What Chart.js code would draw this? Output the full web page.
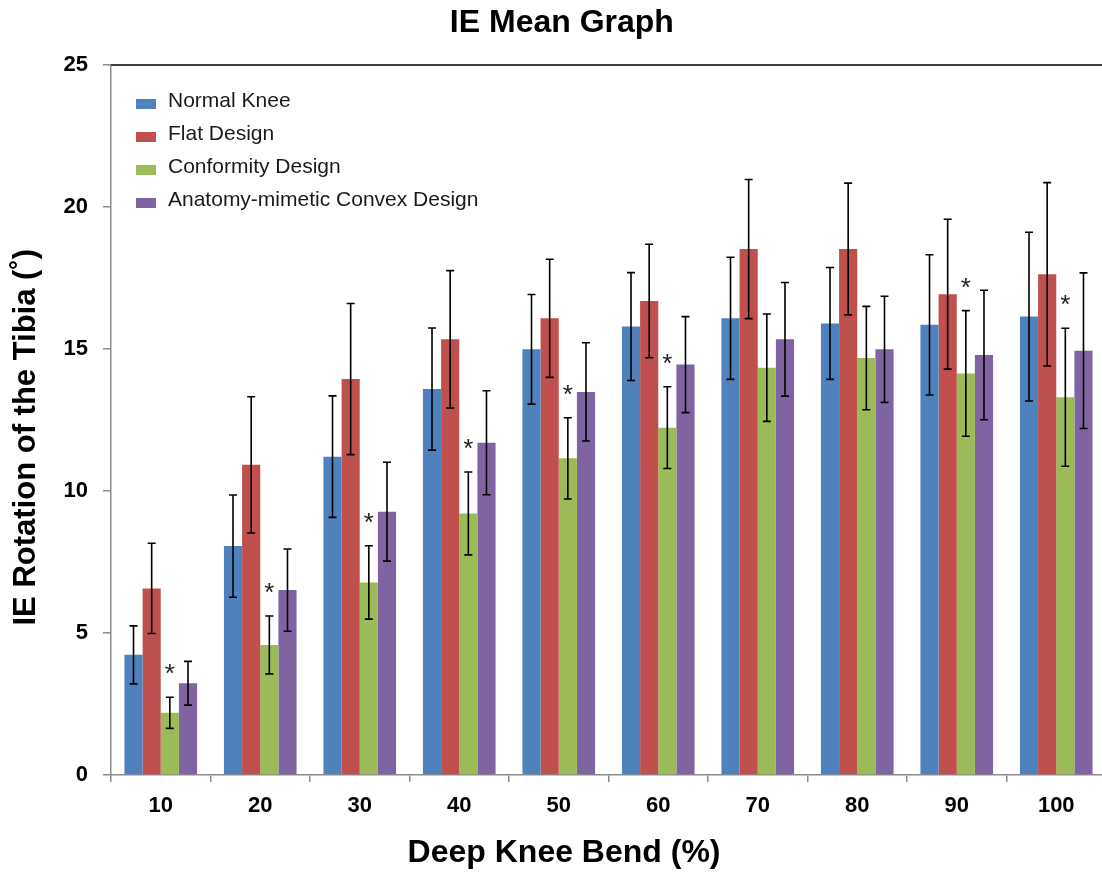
<!DOCTYPE html>
<html>
<head>
<meta charset="utf-8">
<title>IE Mean Graph</title>
<script src="https://cdn.jsdelivr.net/npm/chart.js@4"></script>
<style>
  html, body { margin: 0; padding: 0; background: #fff; overflow: hidden; }
  #wrap { width: 1108px; height: 873px; }
</style>
</head>
<body>
<div id="wrap"><canvas id="ieChart"></canvas></div>
<script>
const categories = ['10', '20', '30', '40', '50', '60', '70', '80', '90', '100'];

const normalKnee = [4.23, 8.06, 11.21, 13.59, 14.99, 15.79, 16.08, 15.90, 15.85, 16.14];
const normalSd   = [1.02, 1.80, 2.14, 2.15, 1.93, 1.90, 2.15, 1.97, 2.47, 2.97];
const flatDesign = [6.57, 10.92, 13.94, 15.34, 16.08, 16.69, 18.52, 18.52, 16.93, 17.63];
const flatSd     = [1.59, 2.40, 2.66, 2.42, 2.08, 2.00, 2.45, 2.32, 2.64, 3.23];
const conformity = [2.19, 4.58, 6.78, 9.21, 11.15, 12.23, 14.34, 14.68, 14.14, 13.30];
const conformSd  = [0.55, 1.02, 1.29, 1.46, 1.43, 1.44, 1.89, 1.82, 2.21, 2.43];
const convex     = [3.23, 6.51, 9.27, 11.70, 13.49, 14.45, 15.34, 14.99, 14.79, 14.94];
const convexSd   = [0.77, 1.45, 1.74, 1.83, 1.73, 1.69, 2.00, 1.87, 2.28, 2.74];

// asterisk over the conformity bar
const significant = [true, true, true, true, true, true, false, false, true, true];

const yTicks = [0, 5, 10, 15, 20, 25];

const FONT = 'Arial, "Liberation Sans", Helvetica, sans-serif';

// error bars, asterisks, top border and legend
const extras = {
  id: 'extras',
  afterDatasetsDraw(chart) {
    const ctx = chart.ctx;
    const y = chart.scales.y;
    const area = chart.chartArea;

    ctx.save();
    ctx.strokeStyle = '#000';
    ctx.lineWidth = 1.6;
    chart.data.datasets.forEach((ds, i) => {
      const meta = chart.getDatasetMeta(i);
      meta.data.forEach((bar, j) => {
        const hi = y.getPixelForValue(ds.data[j] + ds.sd[j]);
        const lo = y.getPixelForValue(ds.data[j] - ds.sd[j]);
        ctx.beginPath();
        ctx.moveTo(bar.x, hi); ctx.lineTo(bar.x, lo);
        ctx.moveTo(bar.x - 4, hi); ctx.lineTo(bar.x + 4, hi);
        ctx.moveTo(bar.x - 4, lo); ctx.lineTo(bar.x + 4, lo);
        ctx.stroke();
      });
    });

    // asterisks
    const gMeta = chart.getDatasetMeta(2);
    ctx.fillStyle = '#222';
    ctx.font = '26px ' + FONT;
    ctx.textAlign = 'center';
    ctx.textBaseline = 'alphabetic';
    significant.forEach((s, j) => {
      if (!s) return;
      const top = y.getPixelForValue(conformity[j] + conformSd[j]);
      ctx.fillText('*', gMeta.data[j].x, top - 15);
    });

    // top frame line
    ctx.strokeStyle = '#404040';
    ctx.lineWidth = 2;
    ctx.beginPath();
    ctx.moveTo(area.left, area.top);
    ctx.lineTo(area.right, area.top);
    ctx.stroke();

    // legend inside plot
    ctx.font = '21px ' + FONT;
    ctx.textAlign = 'left';
    ctx.textBaseline = 'middle';
    chart.data.datasets.forEach((ds, i) => {
      const cy = area.top + 39 + i * 33;
      ctx.fillStyle = ds.backgroundColor;
      ctx.fillRect(area.left + 25, cy - 5, 20, 10);
      ctx.fillStyle = '#1a1a1a';
      ctx.fillText(ds.label, area.left + 57, cy - 3);
    });
    ctx.restore();
  }
};

new Chart(document.getElementById('ieChart'), {
  type: 'bar',
  data: {
    labels: categories,
    datasets: [
      { label: 'Normal Knee', data: normalKnee, sd: normalSd, backgroundColor: '#4F81BD' },
      { label: 'Flat Design', data: flatDesign, sd: flatSd, backgroundColor: '#C0504D' },
      { label: 'Conformity Design', data: conformity, sd: conformSd, backgroundColor: '#9BBB59' },
      { label: 'Anatomy-mimetic Convex Design', data: convex, sd: convexSd, backgroundColor: '#8064A2' }
    ]
  },
  options: {
    responsive: true,
    maintainAspectRatio: false,
    animation: false,
    layout: { padding: { left: 0, right: 2, top: 0, bottom: 0 } },
    datasets: {
      bar: { categoryPercentage: 0.73, barPercentage: 1.0, borderWidth: 0 }
    },
    plugins: {
      legend: { display: false },
      tooltip: { enabled: false },
      title: {
        display: true,
        text: '  IE Mean Graph',
        color: '#000',
        font: { family: FONT, size: 32, weight: 'bold', lineHeight: 1 },
        padding: { top: 7, bottom: 26 }
      }
    },
    scales: {
      x: {
        grid: { display: true, offset: true, drawOnChartArea: false, drawTicks: true, tickLength: 7, color: '#8c8c8c', lineWidth: 1.5 },
        border: { display: true, color: '#8c8c8c', width: 1.5 },
        ticks: { color: '#000', padding: 11, font: { family: FONT, size: 22, weight: 'bold' } },
        title: {
          display: true,
          text: 'Deep Knee Bend (%)          ',
          color: '#000',
          font: { family: FONT, size: 32, weight: 'bold', lineHeight: 1 },
          padding: { top: 0, bottom: 4 }
        },
        afterFit: s => { s.height = 98; }
      },
      y: {
        min: 0,
        max: 25,
        afterBuildTicks: s => { s.ticks = yTicks.map(v => ({ value: v })); },
        grid: { display: true, drawOnChartArea: false, drawTicks: true, tickLength: 8, color: '#8c8c8c', lineWidth: 1.5 },
        border: { display: true, color: '#8c8c8c', width: 1.5 },
        ticks: { color: '#000', padding: 15, font: { family: FONT, size: 22, weight: 'bold' } },
        title: {
          display: true,
          text: 'IE Rotation of the Tibia (˚)    ',
          color: '#000',
          font: { family: FONT, size: 31, weight: 'bold', lineHeight: 1 },
          padding: { top: 11, bottom: 0 }
        },
        afterFit: s => { s.width = 111; }
      }
    }
  },
  plugins: [extras]
});
</script>
</body>
</html>
